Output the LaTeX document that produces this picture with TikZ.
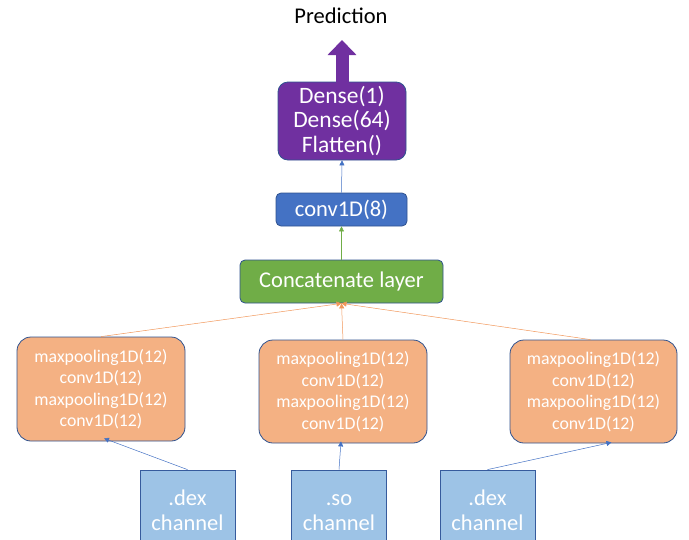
\documentclass[tikz,border=0pt]{standalone}
\usepackage{fontspec}
\setmainfont{Carlito}
\usetikzlibrary{arrows.meta}

\definecolor{headpurple}{HTML}{7030A0}
\definecolor{convblue}{HTML}{4472C4}
\definecolor{concatgreen}{HTML}{70AD47}
\definecolor{branchorange}{HTML}{F4B183}
\definecolor{lineorange}{HTML}{ED7D31}
\definecolor{chanblue}{HTML}{9DC3E6}
\definecolor{edgeblue}{HTML}{2F528F}

\tikzset{
	layerbox/.style={draw=edgeblue, line width=0.8pt, text=white, align=center, inner sep=0pt},
	branchbox/.style={layerbox, fill=branchorange, rounded corners=14pt,
		minimum width=168pt, minimum height=104pt, font=\fontsize{17.8}{21.5}\selectfont},
	chanbox/.style={layerbox, fill=chanblue, draw=convblue!80!black, rounded corners=0pt,
		minimum width=95pt, minimum height=80pt, text height=41pt, text depth=0pt,
		font=\fontsize{22.5}{25}\selectfont},
	feed/.style={-{Triangle[length=5pt,width=5pt]}, line width=0.5pt}
}

\begin{document}
\begin{tikzpicture}[x=1pt, y=-1pt]

	\useasboundingbox (0,0) rectangle (689,539);

	% top of the network
	\node (pred) at (341,16) [font=\fontsize{22.5}{24}\selectfont] {Prediction};
	\node[layerbox, fill=headpurple, rounded corners=10pt, minimum width=128pt, minimum height=78pt,
		font=\fontsize{23.5}{24.5}\selectfont] (head) at (342,121) {Dense(1)\\Dense(64)\\Flatten()};
	\node[layerbox, fill=convblue, rounded corners=5pt, minimum width=131pt, minimum height=33pt,
		font=\fontsize{22.5}{24}\selectfont] (conv8) at (341.5,209.5) {conv1D(8)};
	\node[layerbox, fill=concatgreen, rounded corners=5pt, minimum width=203pt, minimum height=43pt,
		font=\fontsize{22.5}{24}\selectfont] (concat) at (341.5,281.5) {Concatenate layer};
	\coordinate (predtip) at (342,40);

	% the three branches
	\node[branchbox] (branchL) at (101,389) {maxpooling1D(12)\\conv1D(12)\\maxpooling1D(12)\\conv1D(12)};
	\node[branchbox, minimum height=103pt] (branchM) at (343,391.5) {maxpooling1D(12)\\conv1D(12)\\maxpooling1D(12)\\conv1D(12)};
	\node[branchbox, minimum height=103pt, minimum width=167pt] (branchR) at (593.5,391.5) {maxpooling1D(12)\\conv1D(12)\\maxpooling1D(12)\\conv1D(12)};

	% input channels
	\node[chanbox] (chanL) at (187.5,510) {.dex\\channel};
	\node[chanbox] (chanM) at (339,510) {.so\\channel};
	\node[chanbox] (chanR) at (487.5,510) {.dex\\channel};

	\draw[feed, convblue] (chanL.north) -- ([xshift=3pt,yshift=3pt]branchL.south);
	\draw[feed, convblue] (chanM.north) -- ([xshift=-2pt,yshift=2pt]branchM.south);
	\draw[feed, convblue] (chanR.north) -- ([xshift=18pt,yshift=1pt]branchR.south);

	\draw[feed, lineorange!80] (branchL.north) -- (concat.south);
	\draw[feed, lineorange!80] (branchM.north) -- (concat.south);
	\draw[feed, lineorange!80] ([xshift=-3pt]branchR.north) -- (concat.south);

	\draw[feed, concatgreen] (concat.north) -- (conv8.south);
	\draw[feed, convblue] (conv8.north) -- (head.south);

	\draw[headpurple, line width=13pt, -{Triangle[length=15pt,width=28pt]}]
		([yshift=-4pt]head.north) -- (predtip);

\end{tikzpicture}
\end{document}
